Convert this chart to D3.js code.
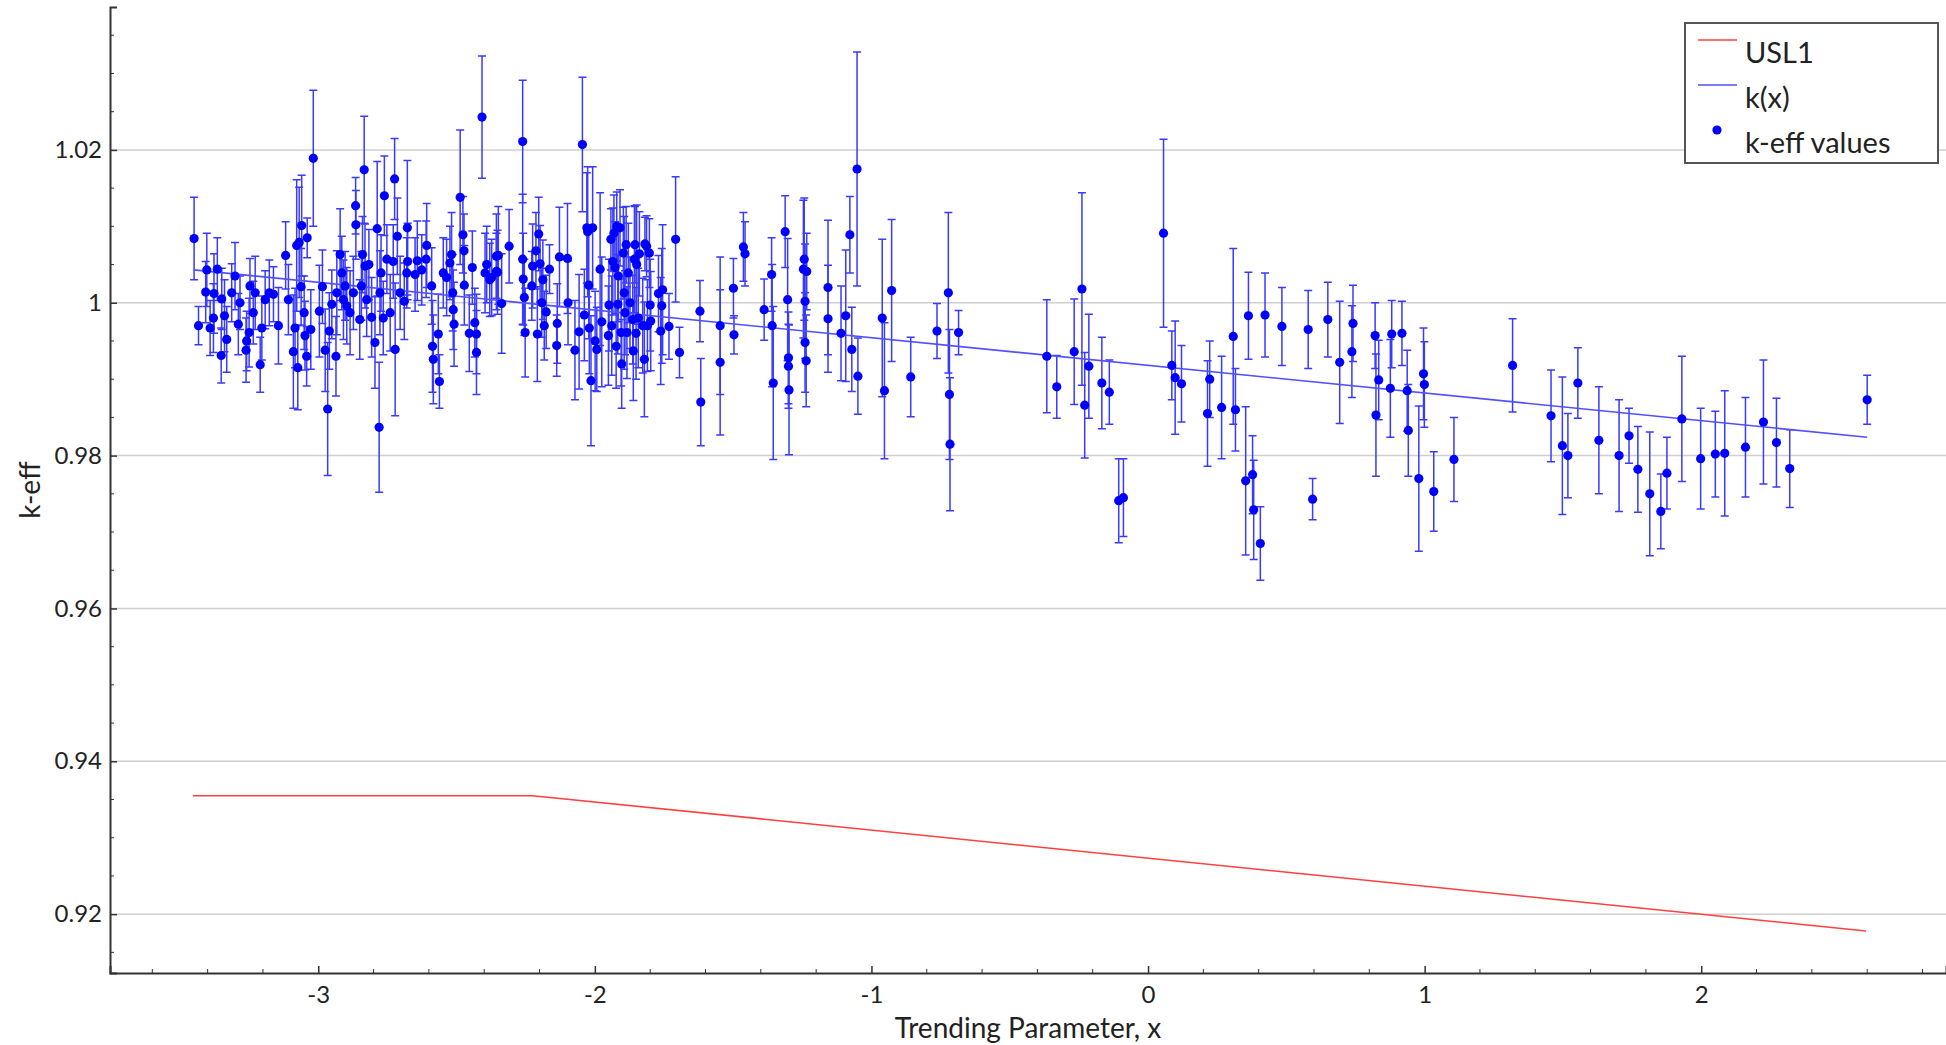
<!DOCTYPE html>
<html>
<head>
<meta charset="utf-8">
<script src="https://cdn.jsdelivr.net/npm/d3@7"></script>
<style>
  body { margin: 0; background: #fff; }
  text { font-family: "Lato", "Open Sans", sans-serif; fill: #222; }
</style>
</head>
<body>
<script>
// k-eff values with error bars: [trending parameter x, k-eff, sigma]
var keffPoints = [
  [-3.449,1.0084,0.0054],[-3.433,0.9970,0.0025],[-3.403,1.0043,0.0048],[-3.407,1.0014,0.0040],
  [-3.391,0.9967,0.0036],[-3.379,0.9980,0.0045],[-3.377,1.0012,0.0052],[-3.365,1.0044,0.0041],
  [-3.351,0.9931,0.0036],[-3.349,1.0005,0.0040],[-3.339,0.9983,0.0047],[-3.331,0.9952,0.0043],
  [-3.313,1.0013,0.0038],[-3.301,1.0035,0.0044],[-3.289,0.9972,0.0040],[-3.283,1.0000,0.0035],
  [-3.261,0.9938,0.0042],[-3.259,0.9950,0.0039],[-3.250,0.9961,0.0045],[-3.247,1.0022,0.0036],
  [-3.235,0.9987,0.0041],[-3.228,1.0013,0.0048],[-3.210,0.9919,0.0036],[-3.204,0.9967,0.0042],
  [-3.192,1.0004,0.0038],[-3.177,1.0013,0.0043],[-3.162,1.0011,0.0036],[-3.144,0.9970,0.0050],
  [-3.118,1.0062,0.0044],[-3.108,1.0004,0.0046],[-3.090,0.9936,0.0074],[-3.084,0.9967,0.0052],
  [-3.078,1.0075,0.0086],[-3.074,0.9915,0.0055],[-3.069,1.0079,0.0072],[-3.060,1.0101,0.0066],
  [-3.062,1.0021,0.0050],[-3.051,0.9987,0.0048],[-3.048,0.9957,0.0045],[-3.042,0.9930,0.0039],
  [-3.040,1.0085,0.0026],[-3.027,0.9965,0.0052],[-3.018,1.0189,0.0089],[-2.996,0.9989,0.0060],
  [-2.985,1.0021,0.0048],[-2.975,0.9938,0.0054],[-2.966,0.9861,0.0087],[-2.960,0.9963,0.0050],
  [-2.951,0.9998,0.0045],[-2.936,0.9930,0.0052],[-2.933,1.0013,0.0055],[-2.921,1.0063,0.0060],
  [-2.915,1.0039,0.0048],[-2.909,1.0004,0.0052],[-2.903,1.0022,0.0045],[-2.897,0.9996,0.0050],
  [-2.885,0.9987,0.0055],[-2.873,1.0013,0.0048],[-2.865,1.0127,0.0037],[-2.864,1.0102,0.0045],
  [-2.850,0.9978,0.0052],[-2.844,1.0022,0.0045],[-2.840,1.0063,0.0050],[-2.834,1.0174,0.0070],
  [-2.831,1.0048,0.0055],[-2.825,1.0004,0.0048],[-2.817,1.0050,0.0046],[-2.807,0.9981,0.0052],
  [-2.795,0.9948,0.0060],[-2.787,1.0097,0.0088],[-2.780,0.9837,0.0085],[-2.777,1.0013,0.0055],
  [-2.773,1.0039,0.0050],[-2.765,0.9980,0.0048],[-2.761,1.0140,0.0052],[-2.752,1.0057,0.0045],
  [-2.740,0.9987,0.0050],[-2.729,1.0054,0.0048],[-2.724,1.0162,0.0053],[-2.722,0.9939,0.0087],
  [-2.714,1.0087,0.0050],[-2.704,1.0013,0.0048],[-2.689,1.0002,0.0050],[-2.680,1.0039,0.0046],
  [-2.678,1.0098,0.0088],[-2.677,1.0054,0.0050],[-2.650,1.0037,0.0048],[-2.642,1.0055,0.0052],
  [-2.626,1.0043,0.0046],[-2.610,1.0057,0.0050],[-2.608,1.0075,0.0055],[-2.590,1.0022,0.0050],
  [-2.587,0.9943,0.0060],[-2.584,0.9926,0.0058],[-2.566,0.9959,0.0052],[-2.562,0.9897,0.0035],
  [-2.548,1.0039,0.0046],[-2.536,1.0033,0.0050],[-2.524,1.0052,0.0048],[-2.518,1.0063,0.0055],
  [-2.514,1.0013,0.0050],[-2.512,0.9991,0.0052],[-2.509,0.9972,0.0055],[-2.487,1.0138,0.0088],
  [-2.477,1.0089,0.0050],[-2.473,1.0068,0.0048],[-2.472,1.0023,0.0052],[-2.454,0.9960,0.0050],
  [-2.443,1.0046,0.0048],[-2.434,0.9974,0.0045],[-2.428,0.9959,0.0052],[-2.428,0.9935,0.0055],
  [-2.408,1.0243,0.0080],[-2.397,1.0039,0.0052],[-2.391,1.0050,0.0050],[-2.380,1.0030,0.0048],
  [-2.356,1.0061,0.0055],[-2.356,1.0041,0.0050],
  [-2.373,1.0033,0.0050],[-2.349,1.0062,0.0064],[-2.352,1.0040,0.0055],[-2.337,0.9999,0.0065],
  [-2.310,1.0074,0.0048],[-2.261,1.0211,0.0080],[-2.261,1.0057,0.0085],[-2.259,1.0031,0.0060],
  [-2.255,1.0007,0.0050],[-2.252,0.9961,0.0058],[-2.228,1.0022,0.0045],[-2.225,1.0048,0.0055],
  [-2.213,1.0068,0.0050],[-2.208,0.9959,0.0062],[-2.203,1.0090,0.0048],[-2.198,1.0051,0.0050],
  [-2.192,1.0000,0.0045],[-2.188,1.0030,0.0052],[-2.183,0.9970,0.0045],[-2.176,0.9988,0.0048],
  [-2.164,1.0044,0.0032],[-2.138,0.9944,0.0040],[-2.136,0.9973,0.0052],[-2.128,1.0060,0.0065],
  [-2.099,1.0058,0.0072],[-2.097,1.0000,0.0055],[-2.072,0.9938,0.0065],[-2.057,0.9962,0.0075],
  [-2.045,1.0207,0.0088],[-2.038,0.9984,0.0060],[-2.029,1.0098,0.0072],[-2.026,1.0093,0.0085],
  [-2.022,1.0023,0.0070],[-2.020,0.9967,0.0060],[-2.014,0.9898,0.0085],[-2.008,1.0098,0.0080],
  [-1.999,0.9950,0.0065],[-1.993,0.9939,0.0055],[-1.981,1.0044,0.0100],[-1.975,0.9975,0.0085],
  [-1.951,0.9957,0.0065],[-1.949,0.9997,0.0060],[-1.942,1.0083,0.0040],[-1.939,0.9970,0.0065],
  [-1.935,1.0054,0.0070],[-1.931,1.0091,0.0050],[-1.927,1.0046,0.0060],[-1.923,0.9943,0.0055],
  [-1.921,1.0100,0.0045],[-1.917,0.9998,0.0065],[-1.915,1.0035,0.0060],[-1.909,1.0098,0.0050],
  [-1.905,0.9961,0.0070],[-1.903,0.9920,0.0058],[-1.897,1.0065,0.0060],[-1.894,1.0013,0.0100],
  [-1.891,0.9987,0.0055],[-1.887,1.0076,0.0050],[-1.884,0.9961,0.0060],[-1.879,1.0039,0.0065],
  [-1.873,1.0000,0.0060],[-1.863,0.9978,0.0058],[-1.861,0.9937,0.0065],[-1.857,1.0057,0.0070],
  [-1.855,1.0076,0.0050],[-1.851,0.9960,0.0060],[-1.849,1.0050,0.0078],[-1.843,0.9980,0.0065],
  [-1.839,1.0064,0.0055],[-1.827,0.9970,0.0062],[-1.821,0.9926,0.0075],[-1.819,1.0077,0.0035],
  [-1.813,1.0074,0.0040],[-1.810,0.9970,0.0060],[-1.803,1.0065,0.0045],[-1.800,0.9997,0.0060],
  [-1.798,0.9976,0.0065],[-1.770,1.0012,0.0050],[-1.762,0.9963,0.0070],[-1.758,0.9996,0.0075],
  [-1.755,1.0017,0.0085],[-1.732,0.9969,0.0043],[-1.708,1.0083,0.0082],[-1.694,0.9935,0.0033],
  [-1.620,0.9989,0.0040],[-1.617,0.9870,0.0057],[-1.547,0.9970,0.0090],[-1.547,0.9922,0.0095],
  [-1.499,1.0019,0.0039],[-1.497,0.9958,0.0025],[-1.463,1.0073,0.0045],[-1.457,1.0064,0.0042],
  [-1.388,0.9991,0.0040],[-1.361,1.0037,0.0048],[-1.359,0.9970,0.0080],[-1.355,0.9895,0.0100],
  [-1.312,1.0093,0.0047],[-1.303,1.0004,0.0080],[-1.300,0.9928,0.0060],[-1.300,0.9917,0.0055],
  [-1.298,0.9886,0.0085],[-1.246,1.0044,0.0090],[-1.243,1.0057,0.0080],[-1.240,1.0002,0.0075],
  [-1.240,0.9948,0.0065],[-1.236,0.9924,0.0060],[-1.234,1.0041,0.0050],
  [-1.157,1.0020,0.0088],[-1.157,0.9979,0.0070],[-1.110,0.9960,0.0062],[-1.093,0.9983,0.0086],
  [-1.078,1.0089,0.0050],[-1.071,0.9939,0.0055],[-1.052,1.0175,0.0153],[-1.049,0.9904,0.0050],
  [-0.961,0.9980,0.0103],[-0.953,0.9885,0.0089],[-0.927,1.0016,0.0093],[-0.858,0.9903,0.0052],
  [-0.763,0.9963,0.0036],[-0.722,1.0013,0.0105],[-0.718,0.9880,0.0085],[-0.716,0.9815,0.0087],
  [-0.685,0.9961,0.0029],[-0.366,0.9930,0.0074],[-0.330,0.9890,0.0041],[-0.267,0.9936,0.0069],
  [-0.239,1.0018,0.0126],[-0.229,0.9866,0.0069],[-0.214,0.9917,0.0068],[-0.167,0.9895,0.0060],
  [-0.140,0.9883,0.0042],[-0.106,0.9741,0.0055],[-0.089,0.9745,0.0051],[0.056,1.0091,0.0123],
  [0.086,0.9918,0.0045],[0.098,0.9902,0.0074],[0.121,0.9894,0.0050],[0.215,0.9855,0.0069],
  [0.223,0.9900,0.0050],[0.266,0.9863,0.0067],[0.308,0.9956,0.0115],[0.316,0.9860,0.0054],
  [0.353,0.9767,0.0097],[0.378,0.9775,0.0051],[0.382,0.9729,0.0065],[0.363,0.9983,0.0057],
  [0.406,0.9685,0.0048],[0.423,0.9984,0.0055],[0.484,0.9969,0.0051],[0.579,0.9965,0.0051],
  [0.595,0.9743,0.0027],[0.650,0.9978,0.0049],[0.693,0.9922,0.0080],[0.737,0.9936,0.0060],
  [0.741,0.9973,0.0050],
  [0.821,0.9957,0.0043],[0.824,0.9853,0.0080],[0.834,0.9899,0.0052],[0.881,0.9959,0.0044],
  [0.876,0.9888,0.0064],[0.918,0.9960,0.0042],[0.937,0.9885,0.0053],[0.941,0.9833,0.0060],
  [0.979,0.9770,0.0095],[0.996,0.9907,0.0060],[0.999,0.9893,0.0056],[1.033,0.9753,0.0052],
  [1.106,0.9795,0.0055],[1.318,0.9918,0.0061],[1.457,0.9852,0.0060],[1.498,0.9813,0.0090],
  [1.518,0.9800,0.0055],[1.554,0.9895,0.0046],[1.630,0.9820,0.0070],[1.703,0.9800,0.0073],
  [1.739,0.9826,0.0036],[1.771,0.9782,0.0056],[1.814,0.9750,0.0081],[1.854,0.9727,0.0049],
  [1.876,0.9777,0.0047],[1.930,0.9848,0.0082],[1.998,0.9796,0.0066],[2.051,0.9802,0.0056],
  [2.085,0.9803,0.0082],[2.160,0.9811,0.0065],[2.225,0.9844,0.0081],[2.272,0.9817,0.0058],
  [2.320,0.9783,0.0051],[2.600,0.9873,0.0032]
];

// fitted trend k(x)
var kxLine = [[-3.45, 1.0043], [2.60, 0.9824]];

// upper subcritical limit
var usl1Line = [[-3.453, 0.9355], [-2.225, 0.9355], [2.596, 0.9178]];

// axis ticks
var xTicks = [-3, -2, -1, 0, 1, 2];
var xTickLabels = ["-3", "-2", "-1", "0", "1", "2"];
var yTicks = [0.92, 0.94, 0.96, 0.98, 1.00, 1.02];
var yTickLabels = ["0.92", "0.94", "0.96", "0.98", "1", "1.02"];

var legendItems = ["USL1", "k(x)", "k-eff values"];

var width = 1946, height = 1045;
var plot = {left: 110, right: 1946, top: 7, bottom: 973};

var svg = d3.select("body").append("svg")
    .attr("width", width)
    .attr("height", height);

var x = d3.scaleLinear().domain([-3.753, 2.885]).range([plot.left, plot.right]);
var y = d3.scaleLinear().domain([0.9123, 1.0387]).range([plot.bottom, plot.top]);

//gridlines
svg.append("g").selectAll("line")
    .data(yTicks)
    .enter().append("line")
    .attr("x1", plot.left).attr("x2", plot.right)
    .attr("y1", function(d){ return y(d); })
    .attr("y2", function(d){ return y(d); })
    .attr("stroke", "#cfcfcf")
    .attr("stroke-width", 1.5);

//USL1 line
var line = d3.line()
    .x(function(d){ return x(d[0]); })
    .y(function(d){ return y(d[1]); });

svg.append("path")
    .datum(usl1Line)
    .attr("d", line)
    .attr("fill", "none")
    .attr("stroke", "#ff4040")
    .attr("stroke-width", 1.6);

//error bars
var bars = svg.append("g")
    .attr("stroke", "#3a3aff")
    .attr("stroke-width", 1.5);

bars.selectAll(".bar")
    .data(keffPoints)
    .enter().append("path")
    .attr("class", "bar")
    .attr("fill", "none")
    .attr("d", function(d){
        var cx = x(d[0]), y0 = y(d[1] - d[2]), y1 = y(d[1] + d[2]);
        return "M" + (cx - 4) + "," + y1 + "H" + (cx + 4) +
               "M" + cx + "," + y1 + "V" + y0 +
               "M" + (cx - 4) + "," + y0 + "H" + (cx + 4);
    });

//k(x) trend line
svg.append("path")
    .datum(kxLine)
    .attr("d", line)
    .attr("fill", "none")
    .attr("stroke", "#5050ff")
    .attr("stroke-width", 1.6);

//points
svg.append("g").selectAll("circle")
    .data(keffPoints)
    .enter().append("circle")
    .attr("cx", function(d){ return x(d[0]); })
    .attr("cy", function(d){ return y(d[1]); })
    .attr("r", 4.6)
    .attr("fill", "#0000ff");

//axes
var xAxis = d3.axisBottom(x)
    .tickValues(xTicks)
    .tickSize(-7)
    .tickPadding(13)
    .tickFormat(function(d, i){ return xTickLabels[i]; });

var xMinor = d3.range(-3.6, 2.85, 0.2).filter(function(v){ return Math.abs(v - Math.round(v)) > 0.01; });
var yMinor = d3.range(0.915, 1.037, 0.005).filter(function(v){ return Math.abs(v * 50 - Math.round(v * 50)) > 0.01; });

var gx = svg.append("g")
    .attr("transform", "translate(0," + plot.bottom + ")")
    .call(xAxis);

gx.selectAll(".minor")
    .data(xMinor)
    .enter().append("line")
    .attr("class", "minor")
    .attr("x1", function(d){ return x(d); })
    .attr("x2", function(d){ return x(d); })
    .attr("y1", 0).attr("y2", -4)
    .attr("stroke", "#333");

var yAxis = d3.axisLeft(y)
    .tickValues(yTicks)
    .tickSize(-7)
    .tickPadding(8)
    .tickFormat(function(d, i){ return yTickLabels[i]; });

var gy = svg.append("g")
    .attr("transform", "translate(" + plot.left + ",0)")
    .call(yAxis);

gy.selectAll(".minor")
    .data(yMinor)
    .enter().append("line")
    .attr("class", "minor")
    .attr("y1", function(d){ return y(d); })
    .attr("y2", function(d){ return y(d); })
    .attr("x1", 0).attr("x2", 4)
    .attr("stroke", "#333");

[gx, gy].forEach(function(g){
    g.select(".domain").attr("stroke", "#333").attr("stroke-width", 2);
    g.selectAll(".tick line").attr("stroke", "#333").attr("stroke-width", 1.5);
    g.selectAll(".tick text")
        .style("font-family", "Lato, 'Open Sans', sans-serif")
        .style("font-size", "24px")
        .attr("fill", "#222");
});

//axis titles
svg.append("text")
    .attr("x", (plot.left + plot.right) / 2)
    .attr("y", 1038)
    .attr("text-anchor", "middle")
    .style("font-size", "28px")
    .text("Trending Parameter, x");

svg.append("text")
    .attr("transform", "translate(40," + ((plot.top + plot.bottom) / 2) + ") rotate(-90)")
    .attr("text-anchor", "middle")
    .style("font-size", "28px")
    .text("k-eff");

//legend
var legend = svg.append("g");

legend.append("rect")
    .attr("x", 1685).attr("y", 23)
    .attr("width", 253).attr("height", 140)
    .attr("fill", "#fff")
    .attr("stroke", "#555")
    .attr("stroke-width", 2);

legend.append("line")
    .attr("x1", 1698).attr("x2", 1737).attr("y1", 40).attr("y2", 40)
    .attr("stroke", "#ff4040").attr("stroke-width", 1.6);

legend.append("line")
    .attr("x1", 1698).attr("x2", 1737).attr("y1", 85).attr("y2", 85)
    .attr("stroke", "#5050ff").attr("stroke-width", 1.6);

legend.append("circle")
    .attr("cx", 1717).attr("cy", 130).attr("r", 4.6)
    .attr("fill", "#0000ff");

legend.selectAll(".label")
    .data(legendItems)
    .enter().append("text")
    .attr("class", "label")
    .attr("x", 1745)
    .attr("y", function(d, i){ return 63 + i * 45; })
    .style("font-size", "29px")
    .text(function(d){ return d; });
</script>
</body>
</html>
